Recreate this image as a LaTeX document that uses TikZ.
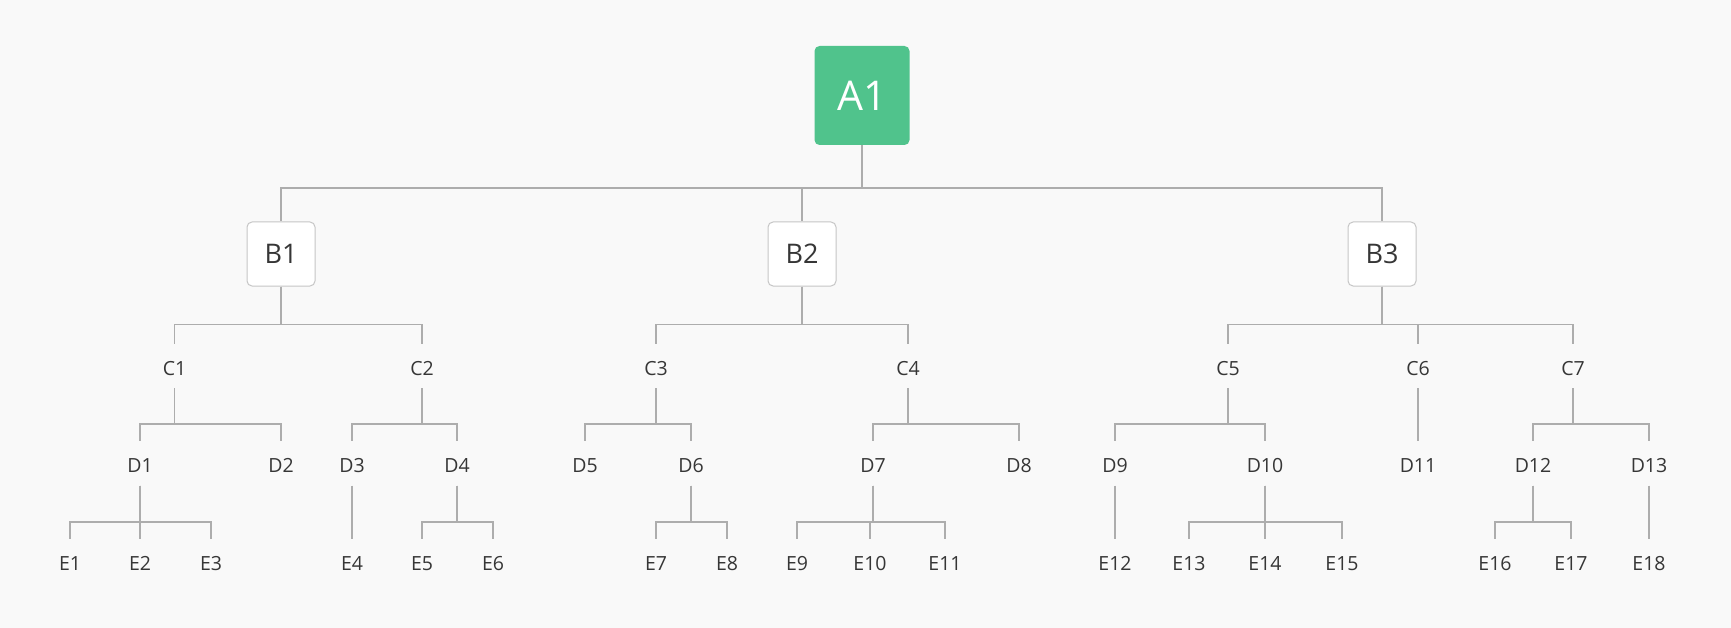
\documentclass[tikz,border=0pt]{standalone}
\usepackage{fontspec}
\setmainfont{Open Sans}
\definecolor{agreen}{HTML}{50C38C}
\definecolor{txt}{HTML}{363636}
\definecolor{linegray}{HTML}{ADADAD}
\definecolor{bord}{HTML}{C6C6C6}
\definecolor{bg}{HTML}{F9F9F9}
\begin{document}
\begin{tikzpicture}[x=1pt,y=-1pt,
  conn/.style={draw=linegray, line width=1.5pt},
  lbl/.style={inner xsep=2pt, inner ysep=0pt, text height=31pt, text depth=13pt,
    font=\fontsize{19.5}{20}\selectfont, text=txt, anchor=base},
  bbox/.style={draw=bord, fill=white, rounded corners=5pt, minimum width=68pt,
    minimum height=64pt, inner sep=0pt, font=\fontsize{27}{28}\selectfont, text=txt, line width=1pt},
  abox/.style={fill=agreen, rounded corners=5pt, minimum width=95pt, minimum height=99pt,
    inner sep=0pt, font=\fontsize{41}{42}\selectfont, text=white}]
\fill[bg] (0,0) rectangle (1731,628);
\useasboundingbox (0,0) rectangle (1731,628);

% nodes
\node[abox] (A1) at (862,95.5) {\raisebox{-2pt}{A1}};
\node[bbox] (B1) at (281,254) {B1};
\node[bbox] (B2) at (802,254) {B2};
\node[bbox] (B3) at (1382,254) {B3};

\node[lbl] (C1) at (174.5,375) {C1};
\node[lbl] (C2) at (422,375) {C2};
\node[lbl] (C3) at (656,375) {C3};
\node[lbl] (C4) at (908,375) {C4};
\node[lbl] (C5) at (1228,375) {C5};
\node[lbl] (C6) at (1418,375) {C6};
\node[lbl] (C7) at (1573,375) {C7};

\node[lbl] (D1) at (140,472.5) {D1};
\node[lbl] (D2) at (281,472.5) {D2};
\node[lbl] (D3) at (352,472.5) {D3};
\node[lbl] (D4) at (457,472.5) {D4};
\node[lbl] (D5) at (585,472.5) {D5};
\node[lbl] (D6) at (691,472.5) {D6};
\node[lbl] (D7) at (873,472.5) {D7};
\node[lbl] (D8) at (1019,472.5) {D8};
\node[lbl] (D9) at (1115,472.5) {D9};
\node[lbl] (D10) at (1265,472.5) {D10};
\node[lbl] (D11) at (1418,472.5) {D11};
\node[lbl] (D12) at (1533,472.5) {D12};
\node[lbl] (D13) at (1649,472.5) {D13};

\node[lbl] (E1) at (70,570.5) {E1};
\node[lbl] (E2) at (140,570.5) {E2};
\node[lbl] (E3) at (211,570.5) {E3};
\node[lbl] (E4) at (352,570.5) {E4};
\node[lbl] (E5) at (422,570.5) {E5};
\node[lbl] (E6) at (493,570.5) {E6};
\node[lbl] (E7) at (656,570.5) {E7};
\node[lbl] (E8) at (727,570.5) {E8};
\node[lbl] (E9) at (797,570.5) {E9};
\node[lbl] (E10) at (870,570.5) {E10};
\node[lbl] (E11) at (945,570.5) {E11};
\node[lbl] (E12) at (1115,570.5) {E12};
\node[lbl] (E13) at (1189,570.5) {E13};
\node[lbl] (E14) at (1265,570.5) {E14};
\node[lbl] (E15) at (1342,570.5) {E15};
\node[lbl] (E16) at (1495,570.5) {E16};
\node[lbl] (E17) at (1571,570.5) {E17};
\node[lbl] (E18) at (1649,570.5) {E18};

% connectors
\foreach \c in {B1,B2,B3} \draw[conn] (A1.south) -- ++(0,43) -| (\c.north);
\foreach \c in {C1,C2} \draw[conn] (B1.south) -- ++(0,38) -| (\c.north);
\foreach \c in {C3,C4} \draw[conn] (B2.south) -- ++(0,38) -| (\c.north);
\foreach \c in {C5,C6,C7} \draw[conn] (B3.south) -- ++(0,38) -| (\c.north);

\foreach \c in {D1,D2} \draw[conn] (C1.south) -- ++(0,36) -| (\c.north);
\foreach \c in {D3,D4} \draw[conn] (C2.south) -- ++(0,36) -| (\c.north);
\foreach \c in {D5,D6} \draw[conn] (C3.south) -- ++(0,36) -| (\c.north);
\foreach \c in {D7,D8} \draw[conn] (C4.south) -- ++(0,36) -| (\c.north);
\foreach \c in {D9,D10} \draw[conn] (C5.south) -- ++(0,36) -| (\c.north);
\draw[conn] (C6.south) -- (D11.north);
\foreach \c in {D12,D13} \draw[conn] (C7.south) -- ++(0,36) -| (\c.north);

\foreach \c in {E1,E2,E3} \draw[conn] (D1.south) -- ++(0,36.5) -| (\c.north);
\draw[conn] (D3.south) -- (E4.north);
\foreach \c in {E5,E6} \draw[conn] (D4.south) -- ++(0,36.5) -| (\c.north);
\foreach \c in {E7,E8} \draw[conn] (D6.south) -- ++(0,36.5) -| (\c.north);
\foreach \c in {E9,E10,E11} \draw[conn] (D7.south) -- ++(0,36.5) -| (\c.north);
\draw[conn] (D9.south) -- (E12.north);
\foreach \c in {E13,E14,E15} \draw[conn] (D10.south) -- ++(0,36.5) -| (\c.north);
\foreach \c in {E16,E17} \draw[conn] (D12.south) -- ++(0,36.5) -| (\c.north);
\draw[conn] (D13.south) -- (E18.north);
\end{tikzpicture}
\end{document}
